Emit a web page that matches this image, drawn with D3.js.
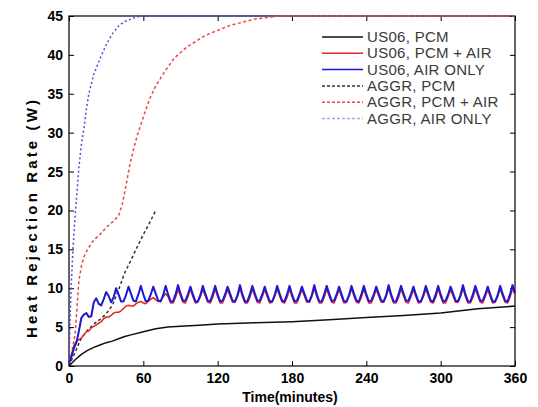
<!DOCTYPE html>
<html><head><meta charset="utf-8">
<script src="https://cdn.jsdelivr.net/npm/d3@7"></script>
<style>body{margin:0;background:#fff}svg{display:block}</style>
</head><body>
<svg id="c" width="538" height="407"></svg>
<script>
// ---------- DATA ----------
const xTicks = [0, 60, 120, 180, 240, 300, 360];
const yTicks = [0, 5, 10, 15, 20, 25, 30, 35, 40, 45];

const seriesNames = ["US06, PCM", "US06, PCM + AIR", "US06, AIR ONLY", "AGGR, PCM", "AGGR, PCM + AIR", "AGGR, AIR ONLY"];

// US06 AIR ONLY / PCM + AIR sampled every 2 minutes (0..360)
const timeUS06 = d3.range(0, 361, 2);
const us06AirOnly = [
  0.3,1.2,2.3,3.0,4.5,  6.2,6.6,6.8,6.3,6.4,  8.2,8.7,8.0,7.8,8.6,  9.5,9.0,8.2,8.8,10.0,
  9.2,8.3,8.3,9.1,10.2, 9.3,8.4,8.3,9.2,10.3, 9.2,8.3,8.4,9.2,10.2, 9.3,8.4,8.3,9.1,10.3,
  9.2,8.3,8.3,9.2,10.4, 9.3,8.4,8.4,9.2,10.2, 9.2,8.3,8.3,9.1,10.3, 9.3,8.4,8.3,9.2,10.3,
  9.2,8.3,8.4,9.2,10.2, 9.3,8.4,8.3,9.1,10.4, 9.2,8.3,8.3,9.2,10.3, 9.3,8.4,8.4,9.2,10.2,
  9.2,8.3,8.3,9.1,10.3, 9.3,8.4,8.3,9.2,10.3, 9.2,8.3,8.4,9.2,10.2, 9.3,8.4,8.3,9.1,10.4,
  9.2,8.3,8.3,9.2,10.3, 9.3,8.4,8.4,9.2,10.2, 9.2,8.3,8.3,9.1,10.3, 9.3,8.4,8.3,9.2,10.3,
  9.2,8.3,8.4,9.2,10.2, 9.3,8.4,8.3,9.1,10.4, 9.2,8.3,8.3,9.2,10.3, 9.3,8.4,8.4,9.2,10.2,
  9.2,8.3,8.3,9.1,10.3, 9.3,8.4,8.3,9.2,10.3, 9.2,8.3,8.4,9.2,10.2, 9.3,8.4,8.3,9.1,10.4,
  9.2,8.3,8.3,9.2,10.3, 9.3,8.4,8.4,9.2,10.2, 9.2,8.3,8.3,9.1,10.3, 9.3,8.4,8.3,9.2,10.4,
  9.4
];
const us06PcmAir = [
  0.5,1.5,2.6,3.2,3.4,  3.6,4.0,4.4,4.5,4.9,  5.1,5.3,5.5,5.7,6.1,  6.3,6.3,6.5,6.8,6.9,
  6.9,7.1,7.4,7.7,7.8,  7.7,7.7,8.0,8.2,8.3,  8.1,8.0,8.3,8.6,8.8,  8.5,8.3,8.4,8.9,9.3,
  8.9,8.1,8.1,8.8,9.8,  9.0,8.2,8.1,8.9,9.9,  8.9,8.1,8.2,8.9,9.8,  9.0,8.2,8.1,8.8,9.9,
  8.9,8.1,8.1,8.9,9.8,  9.0,8.2,8.2,8.9,10.0, 8.9,8.1,8.1,8.8,9.9,  9.0,8.2,8.1,8.9,9.8,
  8.9,8.1,8.2,8.9,9.9,  9.0,8.2,8.1,8.8,9.9,  8.9,8.1,8.1,8.9,9.8,  9.0,8.2,8.2,8.9,10.0,
  8.9,8.1,8.1,8.8,9.9,  9.0,8.2,8.1,8.9,9.8,  8.9,8.1,8.2,8.9,9.9,  9.0,8.2,8.1,8.8,9.9,
  8.9,8.1,8.1,8.9,9.8,  9.0,8.2,8.2,8.9,10.0, 8.9,8.1,8.1,8.8,9.9,  9.0,8.2,8.1,8.9,9.8,
  8.9,8.1,8.2,8.9,9.9,  9.0,8.2,8.1,8.8,9.9,  8.9,8.1,8.1,8.9,9.8,  9.0,8.2,8.2,8.9,10.0,
  8.9,8.1,8.1,8.8,9.9,  9.0,8.2,8.1,8.9,9.8,  8.9,8.1,8.2,8.9,9.9,  9.0,8.2,8.1,8.8,10.0,
  9.1
];

const timeUS06Pcm = [0,5,10,15,20,25,30,35,40,45,50,60,70,80,90,105,120,150,180,210,240,270,300,330,360];
const us06Pcm     = [0,0.8,1.5,2.0,2.4,2.7,3.0,3.2,3.5,3.8,4.0,4.4,4.8,5.0,5.1,5.25,5.4,5.55,5.7,5.95,6.25,6.5,6.8,7.35,7.7];

const timeAggrPcm = [0,5,10,15,20,25,30,35,40,45,50,55,60,65,70];
const aggrPcm     = [0,1.8,3.6,4.6,5.4,6.0,6.7,7.8,9.8,12.0,13.6,15.3,16.9,18.4,20.0];

const timeAggrPcmAir = [0,2,5,8,10,12,15,20,25,30,35,40,43,46,49,52,55,60,65,70,77,85,95,110,130,150,170,200,250,300,360];
const aggrPcmAir     = [0,1.5,4.2,11.0,12.8,14.0,15.0,16.2,16.9,17.8,18.5,19.3,20.8,23.2,25.8,27.8,29.6,32.0,34.3,36.0,37.8,39.6,41.0,42.5,43.8,44.6,45,45,45,45,45];

const timeAggrAir = [0,1,2,3,4,5,6,8,10,12,14,16,20,25,30,35,40,45,50,55,60,360];
const aggrAir     = [0,7,11,14.5,17,19.5,21.5,25.5,28.5,30.5,33,35,37.5,39.5,41.3,42.7,43.7,44.3,44.6,44.9,45,45];

// ---------- CHART ----------
const W = 538, H = 407;
const m = {l: 69, t: 16, r: 23, b: 41};
const pw = W - m.l - m.r, ph = H - m.t - m.b;
const svg = d3.select("#c");
const g = svg.append("g").attr("transform", `translate(${m.l},${m.t})`);
const x = d3.scaleLinear().domain([0, 360]).range([0, pw]);
const y = d3.scaleLinear().domain([0, 45]).range([ph, 0]);

svg.append("rect").attr("width", W).attr("height", H).attr("fill", "#fff").lower();

svg.append("defs").append("clipPath").attr("id", "clip")
  .append("rect").attr("x", -1).attr("y", -2).attr("width", pw + 2).attr("height", ph + 3);

const fontTick = "'Liberation Sans', Arial, sans-serif";

function styleAxis(sel, labels) {
  sel.select(".domain").remove();
  sel.selectAll(".tick line").attr("stroke", "#000").attr("stroke-width", 1);
  sel.selectAll(".tick text").attr("fill", "#000")
    .style("font-family", fontTick).style("font-size", "14px").style("font-weight", "bold");
  if (!labels) sel.selectAll(".tick text").remove();
}

g.append("g").attr("transform", `translate(0,${ph})`)
  .call(d3.axisBottom(x).tickValues(xTicks).tickSize(-5).tickPadding(7).tickFormat(d3.format("d")))
  .call(s => styleAxis(s, true));
g.append("g")
  .call(d3.axisTop(x).tickValues(xTicks).tickSize(-5))
  .call(s => styleAxis(s, false));
g.append("g")
  .call(d3.axisLeft(y).tickValues(yTicks).tickSize(-5).tickPadding(6).tickFormat(d3.format("d")))
  .call(s => styleAxis(s, true));
g.append("g").attr("transform", `translate(${pw},0)`)
  .call(d3.axisRight(y).tickValues(yTicks).tickSize(-5))
  .call(s => styleAxis(s, false));

g.append("rect").attr("width", pw).attr("height", ph)
  .attr("fill", "none").attr("stroke", "#000").attr("stroke-width", 1.2);

const series = [
  {name: seriesNames[0], t: timeUS06Pcm,    v: us06Pcm,    color: "#111",    dash: null,  w: 1.5},
  {name: seriesNames[1], t: timeUS06,       v: us06PcmAir, color: "#e52525", dash: null,  w: 1.5},
  {name: seriesNames[2], t: timeUS06,       v: us06AirOnly,color: "#1a1ad2", dash: null,  w: 2},
  {name: seriesNames[3], t: timeAggrPcm,    v: aggrPcm,    color: "#333",    dash: "3,2.5", w: 1.5},
  {name: seriesNames[4], t: timeAggrPcmAir, v: aggrPcmAir, color: "#e84848", dash: "3,2.5", w: 1.5},
  {name: seriesNames[5], t: timeAggrAir,    v: aggrAir,    color: "#4b4be0", dash: "2,2.5", w: 1.5}
];

const line = d3.line().x(d => x(d[0])).y(d => y(d[1]));
const lines = g.append("g").attr("clip-path", "url(#clip)");
// draw order: dashed first, then solids
[5, 4, 3, 0, 1, 2].forEach(i => {
  const s = series[i];
  lines.append("path")
    .datum(s.t.map((t, k) => [t, s.v[k]]))
    .attr("fill", "none").attr("stroke", s.color).attr("stroke-width", s.w)
    .attr("stroke-dasharray", s.dash).attr("stroke-linejoin", "round")
    .attr("d", line);
});

// legend
const lg = svg.append("g");
series.forEach((s, i) => {
  const yy = 37 + i * 16.3;
  lg.append("line").attr("x1", 322).attr("x2", 363).attr("y1", yy).attr("y2", yy)
    .attr("stroke", i === 5 ? "#a8a8ea" : s.color).attr("stroke-width", 1.5)
    .attr("stroke-dasharray", s.dash ? "3,2" : null);
  lg.append("text").attr("x", 367).attr("y", yy + 5).text(s.name)
    .attr("fill", "#3a3a3a").style("font-family", fontTick).style("font-size", "15px")
    .style("letter-spacing", "0.3px");
});

// axis titles
svg.append("text").attr("x", 290).attr("y", 402).attr("text-anchor", "middle")
  .text("Time(minutes)").attr("fill", "#000")
  .style("font-family", fontTick).style("font-size", "14px").style("font-weight", "bold");
svg.append("text").attr("transform", "translate(37,219) rotate(-90)").attr("text-anchor", "middle")
  .text("Heat Rejection Rate (W)").attr("fill", "#000")
  .attr("textLength", 238).attr("lengthAdjust", "spacing")
  .style("font-family", fontTick).style("font-size", "15px").style("font-weight", "bold");
</script>
</body></html>
